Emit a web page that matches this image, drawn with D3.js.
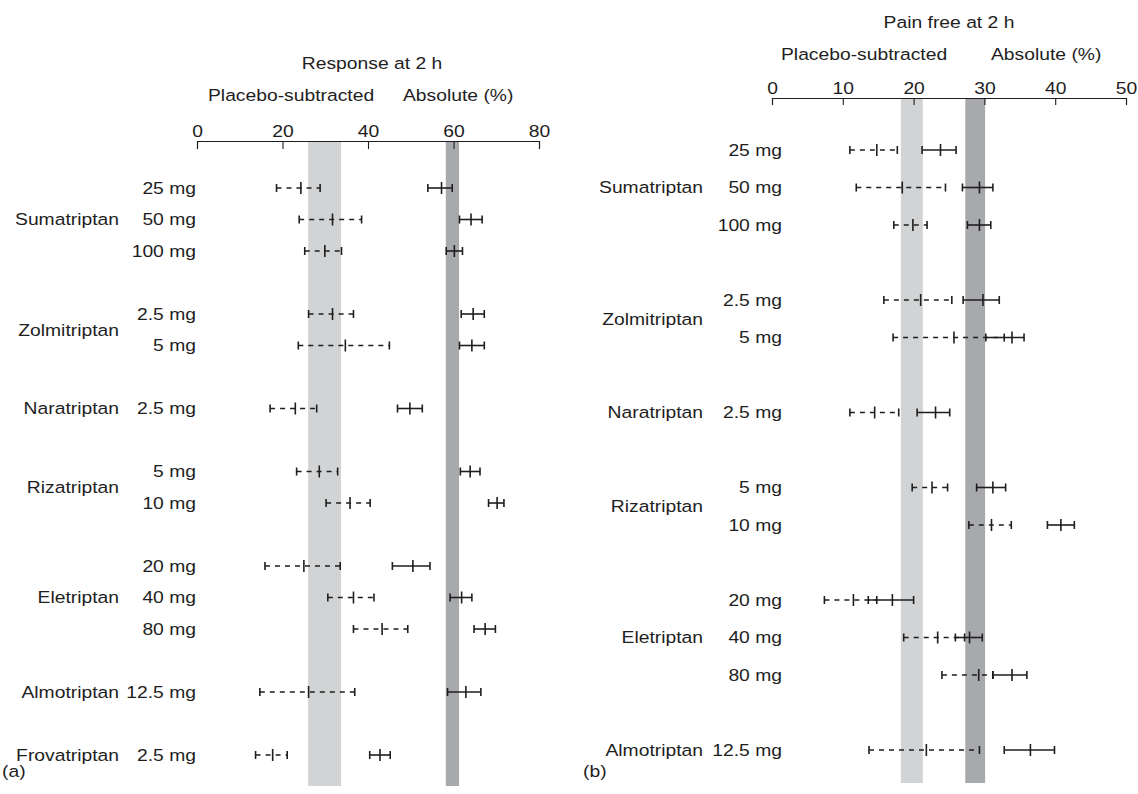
<!DOCTYPE html>
<html><head><meta charset="utf-8">
<script src="https://cdn.jsdelivr.net/npm/d3@7"></script>
<style>
html,body{margin:0;padding:0;background:#fff;}
svg{display:block;font-family:"Liberation Sans",Arial,Helvetica,sans-serif;}
</style></head><body>
<svg id="chart" width="1138" height="794"></svg>
<script>
// ---- Panel (a): response at 2 h ----
const respDrugs = ["Sumatriptan","Sumatriptan","Sumatriptan","Zolmitriptan","Zolmitriptan","Naratriptan","Rizatriptan","Rizatriptan","Eletriptan","Eletriptan","Eletriptan","Almotriptan","Frovatriptan"];
const respDoses = ["25 mg","50 mg","100 mg","2.5 mg","5 mg","2.5 mg","5 mg","10 mg","20 mg","40 mg","80 mg","12.5 mg","2.5 mg"];
const respSubLow  = [18.6, 23.9, 25.2, 26.1, 23.7, 17.1, 23.3, 30.2, 15.9, 30.6, 36.6, 14.7, 13.7];
const respSubMean = [24.3, 31.7, 29.9, 31.7, 34.7, 23.0, 28.6, 35.8, 25.0, 36.6, 43.3, 26.1, 17.7];
const respSubHigh = [28.8, 38.5, 33.8, 36.6, 45.0, 28.0, 32.9, 40.5, 33.5, 41.4, 49.3, 36.9, 21.1];
const respAbsLow  = [54.0, 61.4, 58.3, 61.8, 61.4, 46.9, 61.6, 68.2, 45.7, 59.2, 64.8, 58.6, 40.4];
const respAbsMean = [57.2, 64.1, 60.2, 64.6, 64.3, 49.8, 63.9, 70.2, 50.5, 61.9, 67.4, 62.9, 42.8];
const respAbsHigh = [59.7, 66.7, 62.1, 67.2, 67.2, 52.7, 66.2, 71.8, 54.5, 64.3, 69.8, 66.4, 45.2];
const respSubBand = [26.0, 33.7];
const respAbsBand = [58.2, 61.3];
const respTicks = [0, 20, 40, 60, 80];

// ---- Panel (b): pain free at 2 h ----
const pfDrugs = ["Sumatriptan","Sumatriptan","Sumatriptan","Zolmitriptan","Zolmitriptan","Naratriptan","Rizatriptan","Rizatriptan","Eletriptan","Eletriptan","Eletriptan","Almotriptan"];
const pfDoses = ["25 mg","50 mg","100 mg","2.5 mg","5 mg","2.5 mg","5 mg","10 mg","20 mg","40 mg","80 mg","12.5 mg"];
const pfSubLow  = [11.0, 11.9, 17.2, 15.8, 17.1, 11.0, 19.8, 27.8,  7.4, 18.6, 24.0, 13.7];
const pfSubMean = [14.8, 18.4, 19.9, 21.0, 25.7, 14.5, 22.6, 31.0, 11.5, 23.4, 29.2, 21.8];
const pfSubHigh = [17.7, 24.5, 21.9, 25.4, 32.8, 17.9, 24.8, 33.8, 14.8, 27.2, 31.2, 29.3];
const pfAbsLow  = [21.2, 26.9, 27.6, 27.0, 30.2, 20.5, 28.9, 38.9, 13.6, 25.9, 31.2, 32.8];
const pfAbsMean = [23.8, 29.3, 29.3, 29.8, 33.9, 23.1, 31.2, 40.8, 17.0, 27.9, 33.9, 36.5];
const pfAbsHigh = [26.0, 31.2, 30.9, 32.1, 35.6, 25.1, 33.0, 42.7, 20.0, 29.7, 36.0, 39.9];
const pfSubBand = [18.2, 21.3];
const pfAbsBand = [27.3, 30.1];
const pfTicks = [0, 10, 20, 30, 40, 50];

const svg = d3.select("#chart");
const INK = "#1e1e1e";
const FS = 16.5, SX = 1.17;   // font size and horizontal text stretch

function label(g, x, y, txt, anchor) {
  return g.append("text")
    .attr("transform", `translate(${x},${y}) scale(${SX},1)`)
    .attr("text-anchor", anchor || "start")
    .attr("font-size", FS)
    .attr("fill", INK)
    .text(txt);
}

function panel(cfg) {
  const g = svg.append("g");
  const x = d3.scaleLinear().domain(cfg.domain).range(cfg.xRange);

  // row slots, with a blank slot between different drugs
  const keys = [];
  cfg.drugs.forEach((d, i) => {
    if (i > 0 && d !== cfg.drugs[i - 1]) keys.push("gap" + i);
    keys.push(d + "|" + cfg.doses[i]);
  });
  const y = d3.scalePoint().domain(keys).range(cfg.yRange);
  const rows = cfg.drugs.map((d, i) => ({
    key: d + "|" + cfg.doses[i], drug: d, dose: cfg.doses[i],
    sub: [cfg.subLow[i], cfg.subMean[i], cfg.subHigh[i]],
    abs: [cfg.absLow[i], cfg.absMean[i], cfg.absHigh[i]]
  }));

  // reference bands
  [[cfg.subBand, "#d2d3d5"], [cfg.absBand, "#a8a9ac"]].forEach(([b, c]) => {
    g.append("rect")
      .attr("x", x(b[0])).attr("width", x(b[1]) - x(b[0]))
      .attr("y", cfg.axisY).attr("height", cfg.bandBottom - cfg.axisY)
      .attr("fill", c);
  });

  // axis on top, ticks pointing down
  const ax = g.append("g").attr("transform", `translate(0,${cfg.axisY})`)
    .call(d3.axisTop(x).tickValues(cfg.ticks).tickSize(-cfg.tickLen).tickPadding(4));
  ax.select(".domain").attr("stroke", INK).attr("stroke-width", 1.1);
  ax.selectAll(".tick line").attr("stroke", INK).attr("stroke-width", 1.1);
  ax.selectAll(".tick text")
    .attr("font-size", FS).attr("fill", INK)
    .attr("font-family", "'Liberation Sans',Arial,Helvetica,sans-serif")
    .attr("transform", `scale(${SX},1)`);

  // headings
  label(g, cfg.titleX, cfg.titleY, cfg.title, "middle");
  label(g, cfg.subHeadX, cfg.headY, "Placebo-subtracted", "start");
  label(g, cfg.absHeadX, cfg.headY, "Absolute (%)", "start");

  // error bars
  function bars(field, dashed) {
    const bg = g.append("g").attr("stroke", INK).attr("fill", "none");
    const r = bg.selectAll("g").data(rows).join("g");
    r.append("line")
      .attr("x1", d => x(d[field][0])).attr("x2", d => x(d[field][2]))
      .attr("y1", d => y(d.key)).attr("y2", d => y(d.key))
      .attr("stroke-width", dashed ? 1.4 : 1.6)
      .attr("stroke-dasharray", dashed ? "5,5" : null);
    [0, 2].forEach(j => {
      r.append("line")
        .attr("x1", d => x(d[field][j])).attr("x2", d => x(d[field][j]))
        .attr("y1", d => y(d.key) - 4).attr("y2", d => y(d.key) + 4)
        .attr("stroke-width", 1.6);
    });
    r.append("line")
      .attr("x1", d => x(d[field][1])).attr("x2", d => x(d[field][1]))
      .attr("y1", d => y(d.key) - 6).attr("y2", d => y(d.key) + 6)
      .attr("stroke-width", 1.6);
  }
  bars("sub", true);
  bars("abs", false);

  // dose labels
  rows.forEach(d => {
    label(g, cfg.doseX, y(d.key), d.dose, "end").attr("dy", "0.35em");
  });
  // drug labels, centred on their dose rows
  const groups = d3.groups(rows, d => d.drug);
  groups.forEach(([drug, rs]) => {
    const yc = d3.mean(rs, d => y(d.key));
    label(g, cfg.drugX, yc, drug, "end").attr("dy", "0.35em");
  });

  label(g, cfg.tagX, cfg.tagY, cfg.tag, "start");
}

panel({
  domain: [0, 80], xRange: [197, 539], yRange: [188, 755],
  axisY: 141, tickLen: 8, bandBottom: 786, ticks: respTicks,
  drugs: respDrugs, doses: respDoses,
  subLow: respSubLow, subMean: respSubMean, subHigh: respSubHigh,
  absLow: respAbsLow, absMean: respAbsMean, absHigh: respAbsHigh,
  subBand: respSubBand, absBand: respAbsBand,
  title: "Response at 2 h", titleX: 372, titleY: 69,
  headY: 101, subHeadX: 208, absHeadX: 403,
  doseX: 196, drugX: 119, tag: "(a)", tagX: 2, tagY: 777
});

panel({
  domain: [0, 50], xRange: [772, 1126], yRange: [150, 750],
  axisY: 98, tickLen: 7, bandBottom: 783, ticks: pfTicks,
  drugs: pfDrugs, doses: pfDoses,
  subLow: pfSubLow, subMean: pfSubMean, subHigh: pfSubHigh,
  absLow: pfAbsLow, absMean: pfAbsMean, absHigh: pfAbsHigh,
  subBand: pfSubBand, absBand: pfAbsBand,
  title: "Pain free at 2 h", titleX: 949, titleY: 28,
  headY: 60, subHeadX: 781, absHeadX: 991,
  doseX: 782, drugX: 703, tag: "(b)", tagX: 583, tagY: 777
});
</script>
</body></html>
